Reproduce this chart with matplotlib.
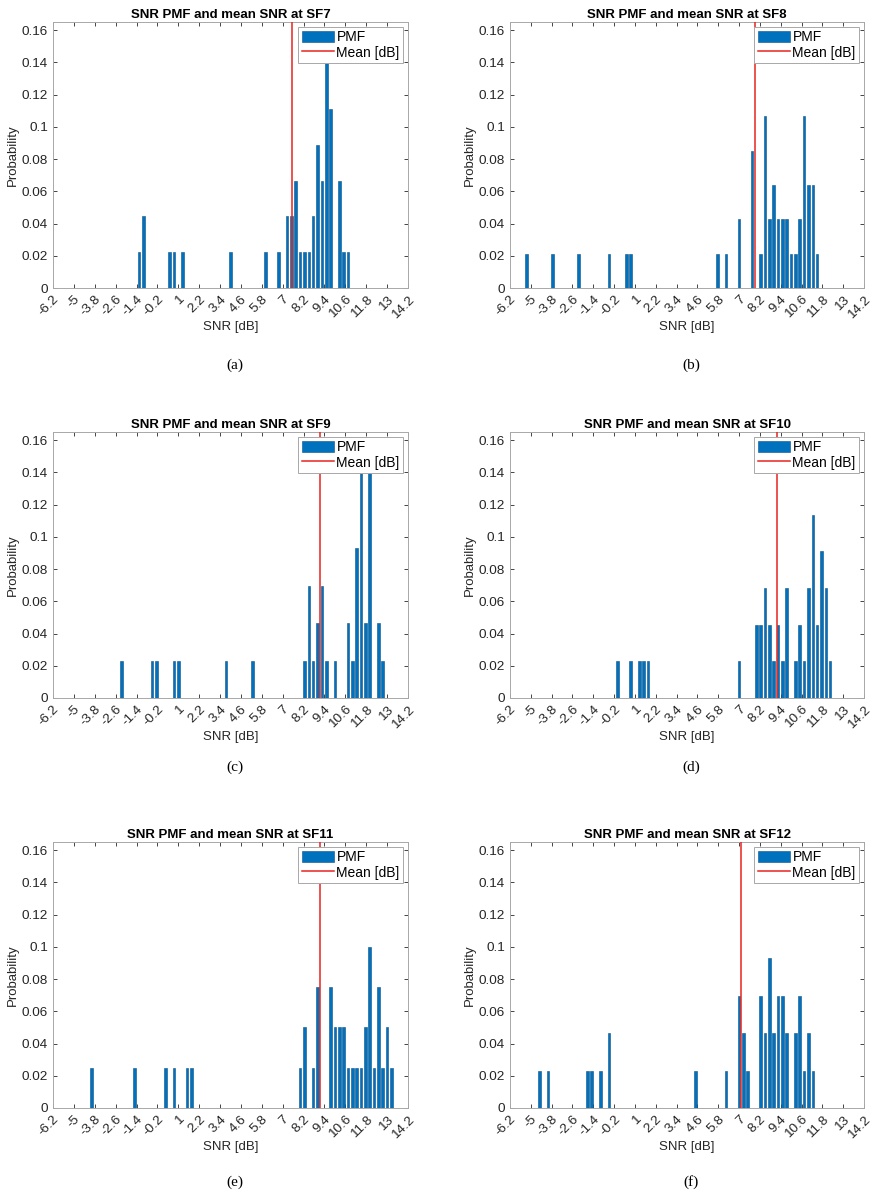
import numpy as np
import matplotlib
matplotlib.use("Agg")
from matplotlib import pyplot as plt
from matplotlib.ticker import FuncFormatter

# SNR bins [dB] and counts per bin (PMF = counts / total)
snr_sf7 = [-1.25, -1.0, 0.5, 0.75, 1.25, 4.0, 6.0, 6.75, 7.25, 7.5, 7.75, 8.0, 8.25, 8.5, 8.75,
           9.0, 9.25, 9.5, 9.75, 10.25, 10.5, 10.75]
cnt_sf7 = [1, 2, 1, 1, 1, 1, 1, 1, 2, 2, 3, 1, 1, 1, 2, 4, 3, 7, 5, 3, 1, 1]
mean_sf7 = 7.55

snr_sf8 = [-5.25, -3.75, -2.25, -0.5, 0.5, 0.75, 5.75, 6.25, 7.0, 7.75, 8.25, 8.5, 8.75, 9.0,
           9.25, 9.5, 9.75, 10.0, 10.25, 10.5, 10.75, 11.0, 11.25, 11.5]
cnt_sf8 = [1, 1, 1, 1, 1, 1, 1, 1, 2, 4, 1, 5, 2, 3, 2, 2, 2, 1, 1, 2, 5, 3, 3, 1]
mean_sf8 = 7.9

snr_sf9 = [-2.25, -0.5, -0.25, 0.75, 1.0, 3.75, 5.25, 8.25, 8.5, 8.75, 9.0, 9.25, 9.5, 10.0,
           10.75, 11.0, 11.25, 11.5, 11.75, 12.0, 12.5, 12.75]
cnt_sf9 = [1, 1, 1, 1, 1, 1, 1, 1, 3, 1, 2, 3, 1, 1, 2, 1, 4, 6, 2, 6, 2, 1]
mean_sf9 = 9.13

snr_sf10 = [0.0, 0.75, 1.25, 1.5, 1.75, 7.0, 8.0, 8.25, 8.5, 8.75, 9.0, 9.25, 9.5, 9.75,
            10.25, 10.5, 10.75, 11.0, 11.25, 11.5, 11.75, 12.0, 12.25]
cnt_sf10 = [1, 1, 1, 1, 1, 1, 2, 2, 3, 2, 1, 2, 1, 3, 1, 2, 1, 3, 5, 2, 4, 3, 1]
mean_sf10 = 9.17

snr_sf11 = [-4.0, -1.5, 0.25, 0.75, 1.5, 1.75, 8.0, 8.25, 8.75, 9.0, 9.75, 10.0, 10.25, 10.5,
            10.75, 11.0, 11.25, 11.5, 11.75, 12.0, 12.25, 12.5, 12.75, 13.0, 13.25]
cnt_sf11 = [1, 1, 1, 1, 1, 1, 1, 2, 1, 3, 3, 2, 2, 2, 1, 1, 1, 1, 2, 4, 1, 3, 1, 2, 1]
mean_sf11 = 9.15

snr_sf12 = [-4.5, -4.0, -1.75, -1.5, -1.0, -0.5, 4.5, 6.25, 7.0, 7.25, 7.5, 8.25, 8.5, 8.75,
            9.0, 9.25, 9.5, 9.75, 10.25, 10.5, 10.75, 11.0, 11.25]
cnt_sf12 = [1, 1, 1, 1, 1, 2, 1, 1, 3, 2, 1, 3, 2, 4, 2, 3, 3, 2, 2, 3, 1, 2, 1]
mean_sf12 = 7.09

panels = [
    ("SF7", snr_sf7, cnt_sf7, mean_sf7, "(a)"),
    ("SF8", snr_sf8, cnt_sf8, mean_sf8, "(b)"),
    ("SF9", snr_sf9, cnt_sf9, mean_sf9, "(c)"),
    ("SF10", snr_sf10, cnt_sf10, mean_sf10, "(d)"),
    ("SF11", snr_sf11, cnt_sf11, mean_sf11, "(e)"),
    ("SF12", snr_sf12, cnt_sf12, mean_sf12, "(f)"),
]

x_ticks = np.round(np.arange(-6.2, 14.21, 1.2), 1)
y_ticks = np.round(np.arange(0, 0.161, 0.02), 2)

W, H = 875, 1196
BLUE = "#0072BD"
EDGE = "#0B4F86"
AXCOL = "#262626"

plt.rcParams['font.family'] = ['Liberation Sans', 'DejaVu Sans']

fig = plt.figure(figsize=(W / 100, H / 100), dpi=100)

# axes boxes in pixels: left, top, right, bottom
col_x = [(53, 408), (510, 864)]
row_y = [(22, 288), (432, 698), (842, 1108)]
caption_y = [365, 767, 1182]

for i, (sf, snr, cnt, mean, cap) in enumerate(panels):
    r, c = divmod(i, 2)
    x0, x1 = col_x[c]
    y0, y1 = row_y[r]
    ax = fig.add_axes([x0 / W, 1 - y1 / H, (x1 - x0) / W, (y1 - y0) / H])

    pmf = np.array(cnt) / np.sum(cnt)
    bars = ax.bar(snr, pmf, width=0.15, color=BLUE, edgecolor=EDGE, linewidth=0.4,
                  label='PMF', zorder=2)
    mline = ax.axvline(mean, color='#E8251F', linewidth=1.1, label='Mean [dB]', zorder=3)

    ax.set_xlim(-6.2, 14.2)
    ax.set_ylim(0, 0.165)
    ax.set_xticks(x_ticks)
    ax.set_xticklabels(['%g' % v for v in x_ticks], rotation=45, ha='right',
                       rotation_mode='anchor', fontsize=9.5)
    ax.set_yticks(y_ticks)
    ax.yaxis.set_major_formatter(FuncFormatter(lambda v, p: '%g' % round(v, 2)))
    ax.tick_params(direction='in', top=True, right=True, length=3, width=0.6,
                   colors=AXCOL, labelsize=9.7, labelcolor=AXCOL)
    ax.tick_params(axis='x', pad=4)
    for s in ax.spines.values():
        s.set_color('#A8A8A8')
        s.set_linewidth(0.7)

    ax.set_title('SNR PMF and mean SNR at ' + sf, fontsize=9.5, fontweight='bold', pad=3)
    ax.set_xlabel('SNR [dB]', fontsize=9.5, color=AXCOL, labelpad=0)
    ax.set_ylabel('Probability', fontsize=9.5, color=AXCOL, labelpad=2)

    leg = ax.legend([bars, mline], ['PMF', 'Mean [dB]'], loc='upper right', fontsize=10,
                    frameon=True, fancybox=False, borderpad=0.25, handlelength=2.3,
                    handleheight=0.9, handletextpad=0.2, borderaxespad=0.35,
                    labelspacing=0.1, framealpha=1)
    leg.get_frame().set_edgecolor('#A8A8A8')
    leg.get_frame().set_linewidth(0.7)

    fig.text((x0 + x1) / 2 / W + 0.005, 1 - caption_y[r] / H, cap, ha='center', va='center',
             fontsize=11, family='Liberation Serif')

fig.savefig('out.png', dpi=100)
